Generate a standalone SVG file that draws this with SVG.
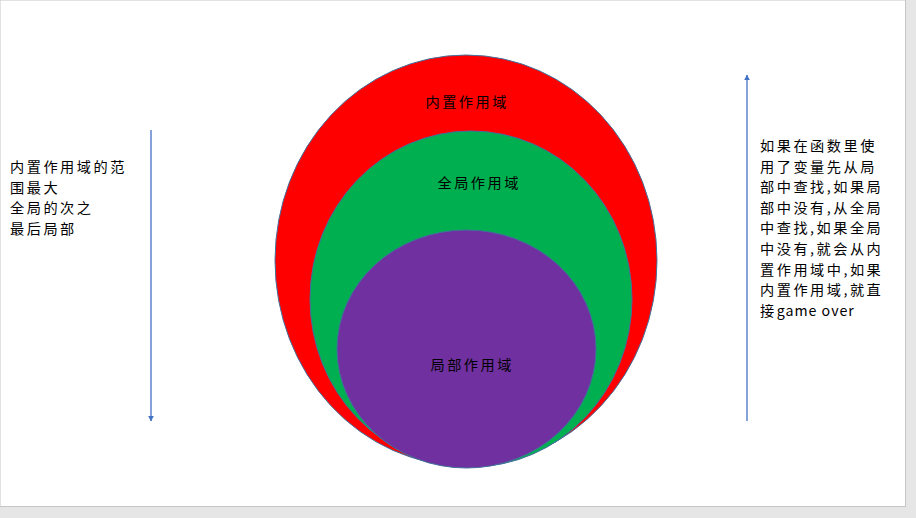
<svg xmlns="http://www.w3.org/2000/svg" width="916" height="518" viewBox="0 0 916 518">
<style>
.t{font-family:"Noto Sans CJK SC","Microsoft YaHei",sans-serif;font-size:14.2px;letter-spacing:2.5px;fill:#000}
.c{text-anchor:middle}
.l{letter-spacing:1px}
.e{stroke:#41719C;stroke-width:1}
.a{stroke:#4472C4;stroke-width:1.3;fill:none}
</style>
<defs>
<marker id="ah" viewBox="0 0 10 10" refX="9" refY="5" markerWidth="6" markerHeight="6" orient="auto" markerUnits="userSpaceOnUse">
<path d="M0,0 L10,5 L0,10 z" fill="#4472C4"/>
</marker>
</defs>
<rect x="0" y="0" width="916" height="518" fill="#E6E6E6"/>
<rect x="0" y="0" width="905.5" height="506.5" fill="#FFFFFF" stroke="#C6C6C6" stroke-width="1"/>
<g id="builtin">
<ellipse class="e" cx="466" cy="260.5" rx="191" ry="205.5" fill="#FF0000"/>
<text class="t c" x="467.2" y="107">内置作用域</text>
</g>
<g id="global">
<ellipse class="e" cx="471" cy="299" rx="161" ry="168" fill="#00B050"/>
<text class="t c" x="479.2" y="188">全局作用域</text>
</g>
<g id="local">
<ellipse class="e" cx="466.5" cy="349" rx="129.5" ry="119" fill="#7030A0"/>
<text class="t c" x="472.2" y="370">局部作用域</text>
</g>
<g id="connectors">
<line class="a" x1="151" y1="130" x2="151" y2="421" marker-end="url(#ah)"/>
<line class="a" x1="747" y1="421" x2="747" y2="75" marker-end="url(#ah)"/>
</g>
<g id="left-note">
<text class="t" x="10" y="172">内置作用域的范</text>
<text class="t" x="10" y="192.7">围最大</text>
<text class="t" x="10" y="213.4">全局的次之</text>
<text class="t" x="10" y="234.1">最后局部</text>
</g>
<g id="right-note">
<text class="t" x="760" y="151">如果在函数里使</text>
<text class="t" x="760" y="171.6">用了变量先从局</text>
<text class="t" x="760" y="192.2">部中查找,如果局</text>
<text class="t" x="760" y="212.8">部中没有,从全局</text>
<text class="t" x="760" y="233.4">中查找,如果全局</text>
<text class="t" x="760" y="254">中没有,就会从内</text>
<text class="t" x="760" y="274.6">置作用域中,如果</text>
<text class="t" x="760" y="295.2">内置作用域,就直</text>
<text class="t" x="760" y="315.8">接<tspan class="l">game over</tspan></text>
</g>
</svg>
